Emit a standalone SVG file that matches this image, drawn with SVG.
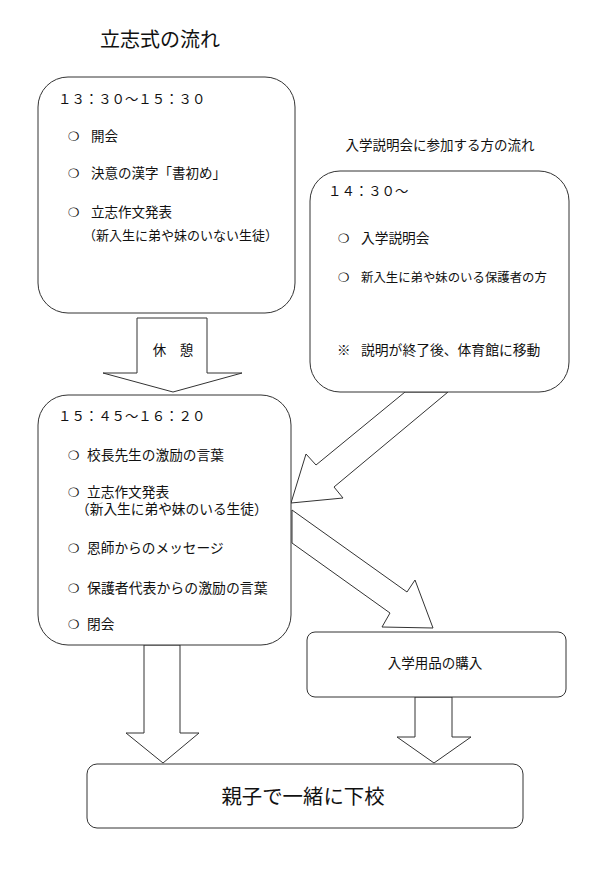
<svg xmlns="http://www.w3.org/2000/svg" width="600" height="883" viewBox="0 0 600 883">
<style>
text{font-family:"Noto Sans CJK JP","Noto Sans",sans-serif;fill:#111;}
.t{font-size:13.5px;}
.h{font-size:20px;}
.c{font-family:"DejaVu Sans",sans-serif;font-size:13px;}
.box{fill:#fff;stroke:#333;stroke-width:1;}
.arr{fill:#fff;stroke:#333;stroke-width:1;stroke-linejoin:miter;}
</style>
<rect width="600" height="883" fill="#fff"/>
<text class="h" x="160" y="47" text-anchor="middle">立志式の流れ</text>
<text class="t" x="440" y="150" text-anchor="middle">入学説明会に参加する方の流れ</text>
<g id="connectors">
<polygon class="arr" points="137,318 207,318 207,373 242,373 173,392 103,373 137,373"/>
<polygon class="arr" points="405,392 316,465 306,454 291,503 343,498 334,487 448,392"/>
<polygon class="arr" points="292,510 407,592 415,580 433,628 382,627 390,613 292,543"/>
<polygon class="arr" points="144,645 180,645 180,733 199,733 163,763 126,733 144,733"/>
<polygon class="arr" points="415,697 452,697 452,737 471,737 434,763 397,737 415,737"/>
<text class="t" x="173" y="355" text-anchor="middle">休　憩</text>
</g>
<g id="node-opening">
<rect class="box" x="38" y="77" width="257" height="236" rx="30" ry="30"/>
<text class="t" x="58" y="104" style="font-size:13.4px">１３：３０～１５：３０</text>
<text class="c" x="68" y="141">❍</text><text class="t" x="91" y="141">開会</text>
<text class="c" x="68" y="178">❍</text><text class="t" x="91" y="178">決意の漢字「書初め」</text>
<text class="c" x="68" y="217">❍</text><text class="t" x="91" y="217">立志作文発表</text>
<text class="t" x="83" y="240" style="font-size:13px">（新入生に弟や妹のいない生徒）</text>
</g>
<g id="node-briefing">
<rect class="box" x="310" y="171" width="259" height="221" rx="30" ry="30"/>
<text class="t" x="328" y="196" style="font-size:13.4px">１４：３０～</text>
<text class="c" x="338" y="243">❍</text><text class="t" x="361" y="243" style="font-size:13.7px">入学説明会</text>
<text class="c" x="338" y="282">❍</text><text class="t" x="361" y="282" style="font-size:12.4px">新入生に弟や妹のいる保護者の方</text>
<text class="t" x="337" y="355">※</text><text class="t" x="361" y="355" style="font-size:13.8px">説明が終了後、体育館に移動</text>
</g>
<g id="node-second">
<rect class="box" x="38" y="395" width="253" height="250" rx="30" ry="30"/>
<text class="t" x="58" y="421" style="font-size:13.4px">１５：４５～１６：２０</text>
<text class="c" x="68" y="460">❍</text><text class="t" x="87" y="460" style="font-size:13.7px">校長先生の激励の言葉</text>
<text class="c" x="68" y="497">❍</text><text class="t" x="87" y="497" style="font-size:13.7px">立志作文発表</text>
<text class="t" x="76" y="514" style="font-size:13.7px">（新入生に弟や妹のいる生徒）</text>
<text class="c" x="68" y="553">❍</text><text class="t" x="87" y="553" style="font-size:13.7px">恩師からのメッセージ</text>
<text class="c" x="68" y="593">❍</text><text class="t" x="87" y="593" style="font-size:13.9px">保護者代表からの激励の言葉</text>
<text class="c" x="68" y="629">❍</text><text class="t" x="87" y="629" style="font-size:13.7px">閉会</text>
</g>
<g id="node-purchase">
<rect class="box" x="307" y="632" width="259" height="65" rx="8" ry="8"/>
<text class="t" x="435" y="668" text-anchor="middle">入学用品の購入</text>
</g>
<g id="node-home">
<rect class="box" x="87" y="764" width="436" height="64" rx="10" ry="10"/>
<text x="303" y="804" text-anchor="middle" style="font-size:20.4px">親子で一緒に下校</text>
</g>
</svg>
